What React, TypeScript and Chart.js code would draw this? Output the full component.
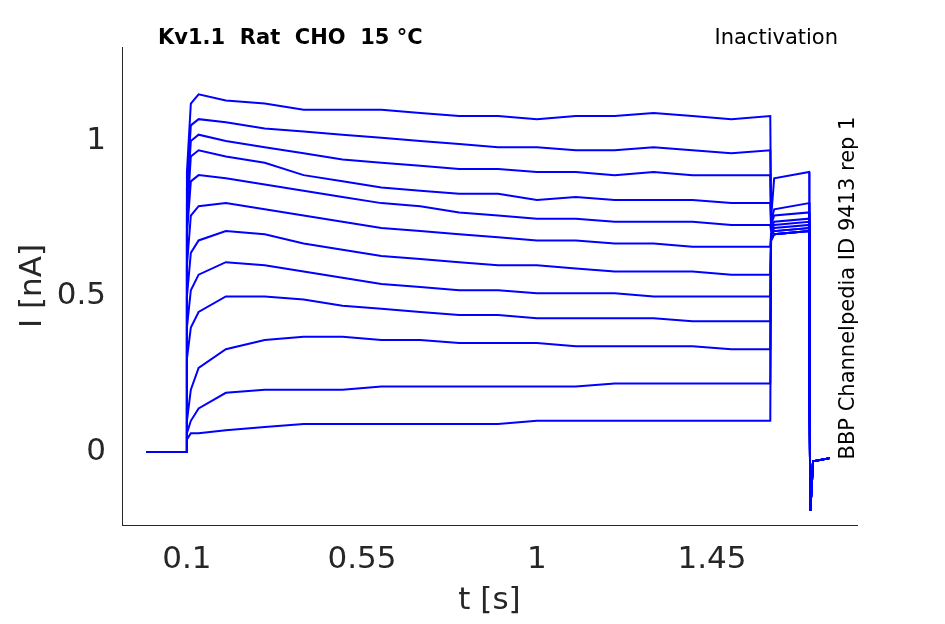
import React, { useEffect, useRef } from "react";
import { Chart, registerables } from "chart.js";
Chart.register(...registerables);

const times = [-0.005, 0.099, 0.1, 0.11, 0.13, 0.2, 0.3, 0.4, 0.5, 0.6, 0.7, 0.8, 0.9, 1.0, 1.1, 1.2, 1.3, 1.4, 1.5, 1.6, 1.602, 1.61, 1.7, 1.701, 1.703, 1.71, 1.753];
const trace1 = [0, 0, 0.9, 1.12, 1.15, 1.13, 1.12, 1.10, 1.10, 1.10, 1.09, 1.08, 1.08, 1.07, 1.08, 1.08, 1.09, 1.08, 1.07, 1.08, 0.75, 0.88, 0.90, 0.2, -0.19, -0.03, -0.02];
const trace2 = [0, 0, 0.85, 1.05, 1.07, 1.06, 1.04, 1.03, 1.02, 1.01, 1.00, 0.99, 0.98, 0.98, 0.97, 0.97, 0.98, 0.97, 0.96, 0.97, 0.74, 0.78, 0.80, 0.2, -0.19, -0.03, -0.02];
const trace3 = [0, 0, 0.8, 1.0, 1.02, 1.00, 0.98, 0.96, 0.94, 0.93, 0.92, 0.91, 0.91, 0.90, 0.90, 0.89, 0.90, 0.89, 0.89, 0.89, 0.73, 0.76, 0.77, 0.2, -0.19, -0.03, -0.02];
const trace4 = [0, 0, 0.75, 0.95, 0.97, 0.95, 0.93, 0.89, 0.87, 0.85, 0.84, 0.83, 0.83, 0.81, 0.82, 0.81, 0.81, 0.81, 0.80, 0.80, 0.72, 0.74, 0.75, 0.2, -0.19, -0.03, -0.02];
const trace5 = [0, 0, 0.7, 0.87, 0.89, 0.88, 0.86, 0.84, 0.82, 0.80, 0.79, 0.77, 0.76, 0.75, 0.75, 0.74, 0.74, 0.74, 0.73, 0.73, 0.71, 0.73, 0.74, 0.2, -0.19, -0.03, -0.02];
const trace6 = [0, 0, 0.6, 0.76, 0.79, 0.80, 0.78, 0.76, 0.74, 0.72, 0.71, 0.70, 0.69, 0.68, 0.68, 0.67, 0.67, 0.66, 0.66, 0.66, 0.70, 0.72, 0.73, 0.2, -0.19, -0.03, -0.02];
const trace7 = [0, 0, 0.5, 0.64, 0.68, 0.71, 0.70, 0.67, 0.65, 0.63, 0.62, 0.61, 0.60, 0.60, 0.59, 0.58, 0.58, 0.58, 0.57, 0.57, 0.70, 0.71, 0.72, 0.2, -0.19, -0.03, -0.02];
const trace8 = [0, 0, 0.4, 0.52, 0.57, 0.61, 0.60, 0.58, 0.56, 0.54, 0.53, 0.52, 0.52, 0.51, 0.51, 0.51, 0.50, 0.50, 0.50, 0.50, 0.70, 0.71, 0.72, 0.2, -0.19, -0.03, -0.02];
const trace9 = [0, 0, 0.3, 0.40, 0.45, 0.50, 0.50, 0.49, 0.47, 0.46, 0.45, 0.44, 0.44, 0.43, 0.43, 0.43, 0.43, 0.42, 0.42, 0.42, 0.69, 0.70, 0.71, 0.2, -0.19, -0.03, -0.02];
const trace10 = [0, 0, 0.1, 0.2, 0.27, 0.33, 0.36, 0.37, 0.37, 0.36, 0.36, 0.35, 0.35, 0.35, 0.34, 0.34, 0.34, 0.34, 0.33, 0.33, 0.69, 0.70, 0.71, 0.2, -0.19, -0.03, -0.02];
const trace11 = [0, 0, 0.06, 0.1, 0.14, 0.19, 0.20, 0.20, 0.20, 0.21, 0.21, 0.21, 0.21, 0.21, 0.21, 0.22, 0.22, 0.22, 0.22, 0.22, 0.68, 0.70, 0.71, 0.2, -0.19, -0.03, -0.02];
const trace12 = [0, 0, 0.04, 0.06, 0.06, 0.07, 0.08, 0.09, 0.09, 0.09, 0.09, 0.09, 0.09, 0.10, 0.10, 0.10, 0.10, 0.10, 0.10, 0.10, 0.68, 0.70, 0.71, 0.2, -0.19, -0.03, -0.02];
const traces = [trace1, trace2, trace3, trace4, trace5, trace6, trace7, trace8, trace9, trace10, trace11, trace12];
const xTicks = [0.1, 0.55, 1, 1.45];
const yTicks = [0, 0.5, 1];

const textPlugin = {
  id: "texts",
  afterDraw(chart: any) {
    const ctx = chart.ctx;
    ctx.save();
    ctx.fillStyle = "#000";
    ctx.font = "bold 21px 'DejaVu Sans'";
    ctx.textBaseline = "middle";
    ctx.fillText("Kv1.1  Rat  CHO  15 °C", 158, 39);
    ctx.font = "21px 'DejaVu Sans'";
    ctx.textAlign = "right";
    ctx.fillText("Inactivation", 838, 39);
    ctx.translate(849, 288);
    ctx.rotate(-Math.PI / 2);
    ctx.textAlign = "center";
    ctx.fillText("BBP Channelpedia ID 9413 rep 1", 0, 0);
    ctx.restore();
  },
};

export default function App() {
  const ref = useRef<HTMLCanvasElement>(null);
  useEffect(() => {
    const chart = new Chart(ref.current!, {
      type: "scatter",
      data: {
        datasets: traces.map((tr) => ({
          data: tr.map((v, i) => ({ x: times[i], y: v })),
          showLine: true,
          borderColor: "#0000ff",
          borderWidth: 2,
          pointRadius: 0,
        })),
      },
      options: {
        animation: false,
        responsive: false,
        layout: { padding: { top: 47, right: 88, left: 14, bottom: 4 } },
        plugins: { legend: { display: false }, tooltip: { enabled: false } },
        scales: {
          x: {
            type: "linear",
            min: -0.067,
            max: 1.823,
            grid: { display: false, tickLength: 0 },
            border: { color: "#262626" },
            afterBuildTicks: (s: any) => { s.ticks = xTicks.map((v) => ({ value: v })); },
            afterFit: (s: any) => { s.height = 95; },
            ticks: { color: "#262626", font: { size: 31, family: "'DejaVu Sans'" }, padding: 16, callback: (v: any) => String(v) },
            title: { display: true, text: "t [s]", color: "#262626", font: { size: 31, family: "'DejaVu Sans'" }, padding: 0 },
          },
          y: {
            min: -0.235,
            max: 1.302,
            grid: { display: false, tickLength: 0 },
            border: { color: "#262626" },
            afterBuildTicks: (s: any) => { s.ticks = yTicks.map((v) => ({ value: v })); },
            afterFit: (s: any) => { s.width = 108; },
            ticks: { color: "#262626", font: { size: 31, family: "'DejaVu Sans'" }, padding: 16, callback: (v: any) => String(v) },
            title: { display: true, text: "I [nA]", color: "#262626", font: { size: 31, family: "'DejaVu Sans'" }, padding: 0 },
          },
        },
      },
      plugins: [textPlugin],
    });
    return () => chart.destroy();
  }, []);
  return (
    <div style={{ position: "absolute", left: 0, top: 0, background: "#fff" }}>
      <canvas ref={ref} width={945} height={624} style={{ width: 945, height: 624 }} />
    </div>
  );
}
